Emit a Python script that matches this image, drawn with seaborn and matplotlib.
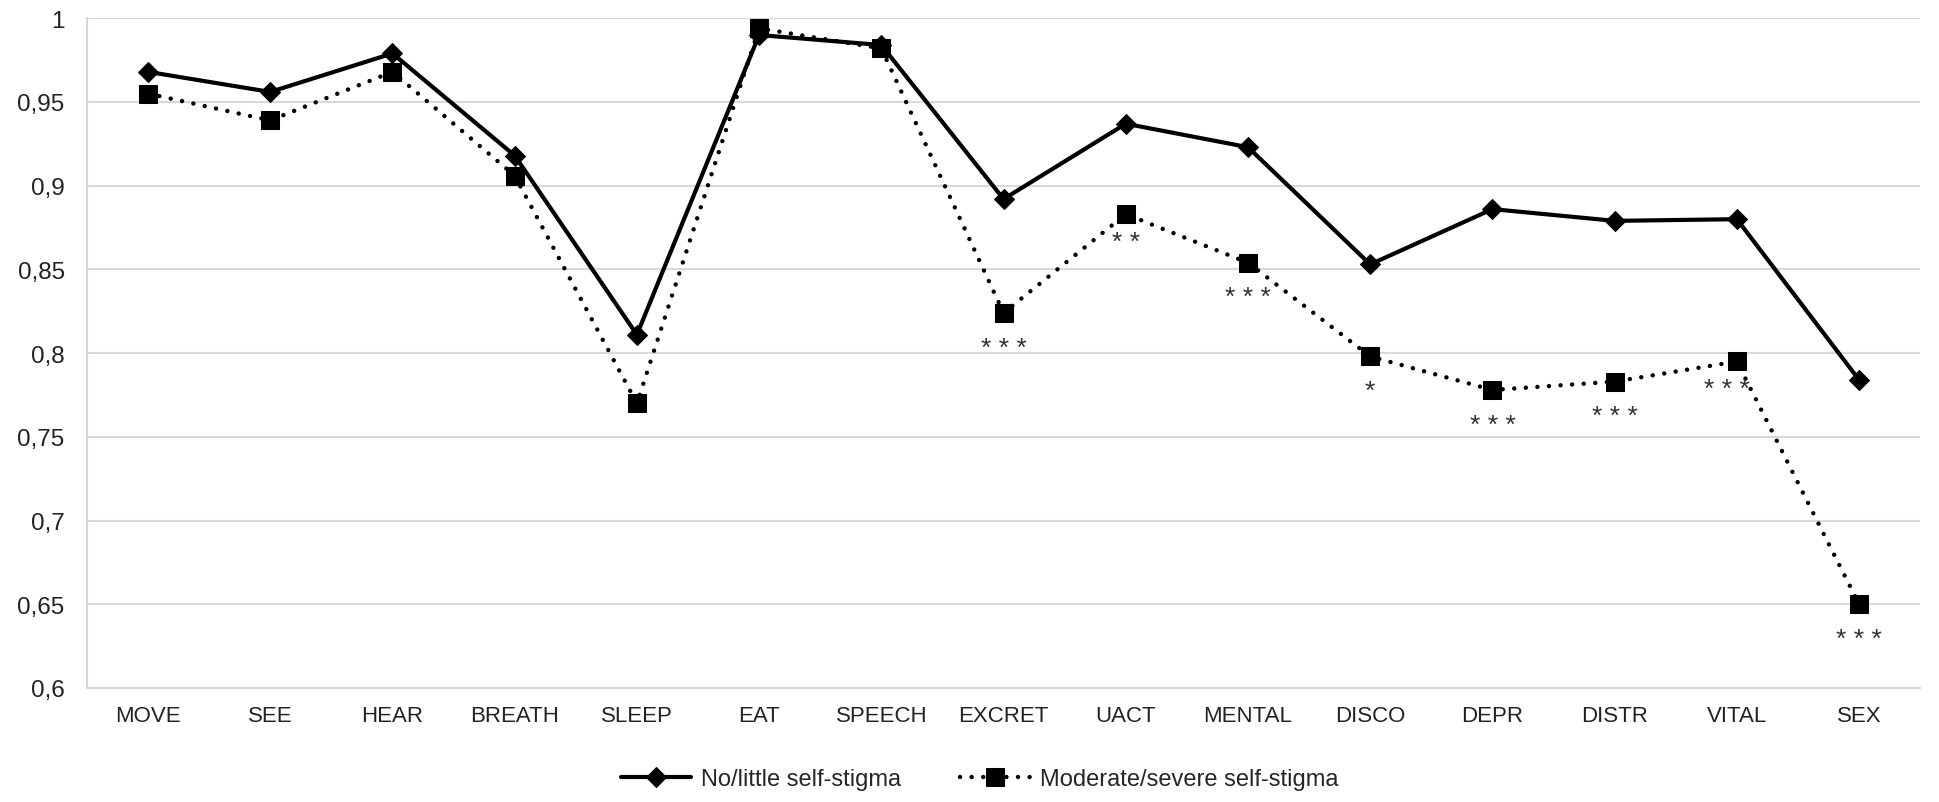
import numpy as np
import pandas as pd
import matplotlib
matplotlib.use("Agg")
import matplotlib.pyplot as plt
import seaborn as sns
from matplotlib.ticker import FixedLocator

categories = ['MOVE', 'SEE', 'HEAR', 'BREATH', 'SLEEP', 'EAT', 'SPEECH', 'EXCRET',
              'UACT', 'MENTAL', 'DISCO', 'DEPR', 'DISTR', 'VITAL', 'SEX']
no_little = [0.968, 0.956, 0.979, 0.918, 0.811, 0.990, 0.984, 0.892,
             0.937, 0.923, 0.853, 0.886, 0.879, 0.880, 0.784]
moderate = [0.955, 0.939, 0.968, 0.906, 0.770, 0.994, 0.982, 0.824,
            0.883, 0.854, 0.798, 0.778, 0.783, 0.795, 0.650]
stars = ['', '', '', '', '', '', '', '***', '**', '***', '*', '***', '***', '***', '***']
y_ticks = [0.6, 0.65, 0.7, 0.75, 0.8, 0.85, 0.9, 0.95, 1.0]
y_labels = ['0,6', '0,65', '0,7', '0,75', '0,8', '0,85', '0,9', '0,95', '1']

sns.set_style("white")
plt.rcParams['font.family'] = ['Liberation Sans', 'DejaVu Sans']

fig = plt.figure(figsize=(19.4, 8.03), dpi=100)
ax = fig.add_axes([0.0448, 0.142, 0.945, 0.834])

df = pd.DataFrame({'cat': categories, 'no': no_little, 'mod': moderate})

sns.lineplot(data=df, x='cat', y='no', sort=False, ax=ax, color='black', lw=3,
             marker='D', markersize=10, markeredgecolor='black',
             label='No/little self-stigma', zorder=3)
sns.lineplot(data=df, x='cat', y='mod', sort=False, ax=ax, color='black', lw=3.2,
             linestyle=(0, (0.01, 2.6)), dash_capstyle='round',
             marker='s', markersize=12.5, markeredgecolor='black',
             label='Moderate/severe self-stigma', zorder=3)

# significance stars under the moderate/severe series
for i, (v, s) in enumerate(zip(moderate, stars)):
    if s:
        dx = -7 if categories[i] == 'VITAL' else 0
        dy = -20 if categories[i] in ('UACT', 'VITAL') else -25
        ax.annotate(s.replace('*', '* ').strip(), (i, v), xytext=(dx, dy),
                    textcoords='offset points', ha='center', va='center',
                    fontsize=19, color='#333333')

ax.set_xlim(-0.5, len(categories) - 0.5)
ax.set_ylim(0.6, 1.0)
ax.yaxis.set_major_locator(FixedLocator(y_ticks))
ax.set_yticklabels(y_labels)
ax.yaxis.grid(True, color='#d9d9d9', lw=1.5)
ax.set_axisbelow(True)
ax.set_xlabel('')
ax.set_ylabel('')
ax.tick_params(axis='both', length=0, labelsize=16, colors='#222222')
ax.tick_params(axis='y', labelsize=17.5, pad=16)
ax.tick_params(axis='x', pad=12)
for side in ['top', 'right']:
    ax.spines[side].set_visible(False)
for side in ['left', 'bottom']:
    ax.spines[side].set_color('#d9d9d9')
    ax.spines[side].set_linewidth(1.5)

ax.legend(loc='center', bbox_to_anchor=(0.487, -0.136), ncol=2, frameon=False,
          fontsize=17, handlelength=3, columnspacing=2.5, handletextpad=0.4)

fig.savefig('out.png', dpi=100, facecolor='white')
